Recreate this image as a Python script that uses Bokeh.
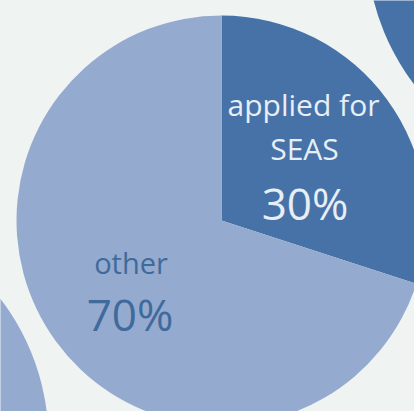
import math
from bokeh.plotting import figure
from bokeh.models import Range1d, ColumnDataSource
from bokeh.core.properties import value
from bokeh.embed import file_html
from bokeh.resources import INLINE

# ---- data ----
categories = ["applied for SEAS", "other"]
shares = [30, 70]
label_lines = [["applied for", "SEAS"], ["other"]]
pct_labels = ["30%", "70%"]

BG = "#eff3f2"
DARK = "#4672a8"
LIGHT = "#95aacf"

W, H = 414, 411
p = figure(width=W, height=H, output_backend="svg", toolbar_location=None,
           x_range=Range1d(0, W), y_range=Range1d(0, H),
           min_border=0, background_fill_color=BG, border_fill_color=BG,
           outline_line_color=None)
p.axis.visible = False
p.grid.visible = False

# neighbouring pies (cropped at the corners)
p.circle(x=[598], y=[H + 57], radius=232, fill_color=DARK, line_color=None)
p.circle(x=[-185], y=[H - 440], radius=233, fill_color=LIGHT, line_color=None)

# main pie
cx, cy, r = 221, H - 220, 205
total = sum(shares)
starts, ends = [], []
a = math.pi / 2
for s in shares:
    starts.append(a)
    a -= 2 * math.pi * s / total
    ends.append(a)
src = ColumnDataSource(dict(start=starts, end=ends, color=[DARK, LIGHT]))
p.wedge(x=cx, y=cy, radius=r, start_angle="start", end_angle="end",
        direction="clock", fill_color="color", line_color=None, source=src)

FONT = "Open Sans"
LIGHT_TXT = "#e8eef6"
DARK_TXT = "#3f6a9c"
# labels for slice 1 (inside dark slice)
p.text(x=[303, 304], y=[H - 104, H - 148], text=label_lines[0],
       text_font=value(FONT), text_font_size="30px", text_color=LIGHT_TXT,
       text_align="center", text_baseline="alphabetic")
p.text(x=[304.5], y=[H - 202], text=[pct_labels[0]],
       text_font=value(FONT), text_font_size="44px", text_color=LIGHT_TXT,
       text_align="center", text_baseline="alphabetic")
# labels for slice 2
p.text(x=[130.5], y=[H - 262], text=label_lines[1],
       text_font=value(FONT), text_font_size="29px", text_color=DARK_TXT,
       text_align="center", text_baseline="alphabetic")
p.text(x=[129.5], y=[H - 313], text=[pct_labels[1]],
       text_font=value(FONT), text_font_size="44px", text_color=DARK_TXT,
       text_align="center", text_baseline="alphabetic")

html = file_html(p, INLINE)
html = html.replace("</head>", "<style>html,body{margin:0;padding:0;background:%s;overflow:hidden;}</style></head>" % BG)
open("out.html", "w").write(html)
